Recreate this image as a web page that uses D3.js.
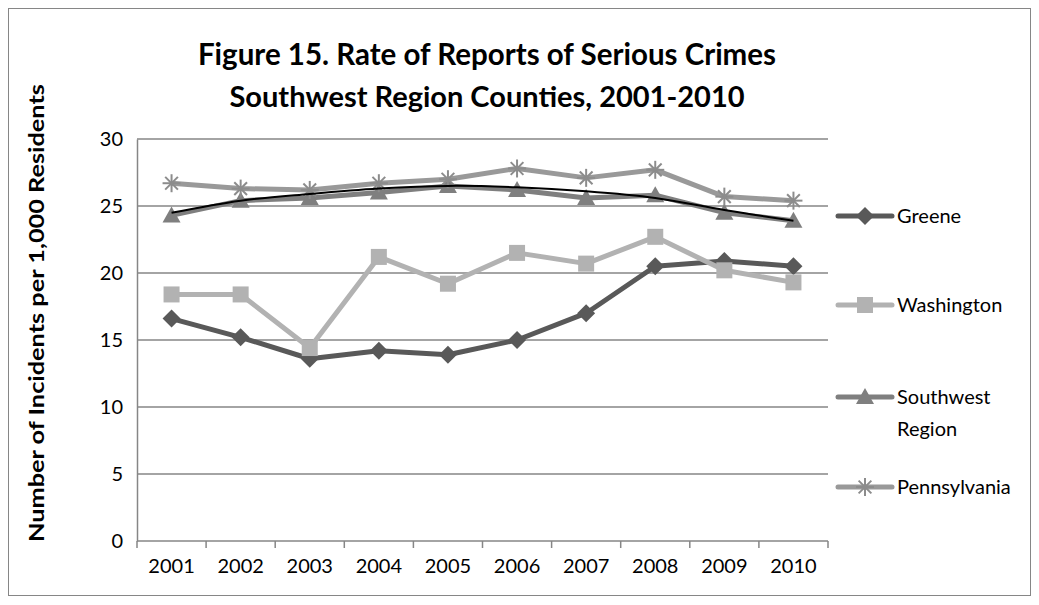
<!DOCTYPE html>
<html>
<head>
<meta charset="utf-8">
<script src="https://cdn.jsdelivr.net/npm/d3@7"></script>
<style>
  body { margin: 0; background: #fff; }
  text { font-family: Lato, "Open Sans", sans-serif; fill: #000; }
</style>
</head>
<body>
<div id="chart"></div>
<script>
// data
const years = ["2001", "2002", "2003", "2004", "2005", "2006", "2007", "2008", "2009", "2010"];
const greene = [16.6, 15.2, 13.6, 14.2, 13.9, 15.0, 17.0, 20.5, 20.9, 20.5];
const washington = [18.4, 18.4, 14.4, 21.2, 19.2, 21.5, 20.7, 22.7, 20.2, 19.3];
const southwest = [24.3, 25.4, 25.6, 26.0, 26.5, 26.2, 25.6, 25.8, 24.5, 23.9];
const pennsylvania = [26.7, 26.3, 26.2, 26.7, 27.0, 27.8, 27.1, 27.7, 25.7, 25.4];
const trend = [24.5, 25.4, 25.9, 26.3, 26.5, 26.4, 26.1, 25.6, 24.7, 23.9]; // black trendline of Southwest
const yTicks = [0, 5, 10, 15, 20, 25, 30];

const W = 1039, H = 605;
const margin = {left: 137, right: 211, top: 139, bottom: 64};

const svg = d3.select("#chart").append("svg")
    .attr("width", W)
    .attr("height", H);

// outer frame
svg.append("rect")
    .attr("x", 8.5).attr("y", 8.5)
    .attr("width", 1022).attr("height", 587)
    .attr("fill", "#fff")
    .attr("stroke", "#868686")
    .attr("stroke-width", 1);

const x = d3.scaleBand()
    .domain(years)
    .range([margin.left, W - margin.right]);

const y = d3.scaleLinear()
    .domain([0, 30])
    .range([H - margin.bottom, margin.top]);

const cx = d => x(d) + x.bandwidth() / 2;

// gridlines
svg.append("g")
    .selectAll("line")
    .data(yTicks.slice(1))
    .join("line")
    .attr("x1", margin.left).attr("x2", W - margin.right)
    .attr("y1", d => y(d)).attr("y2", d => y(d))
    .attr("stroke", "#868686")
    .attr("stroke-width", 1.5);

// y axis
const yAxis = svg.append("g")
    .attr("transform", "translate(" + margin.left + ",0)")
    .call(d3.axisLeft(y).tickValues(yTicks).tickSize(0).tickPadding(14));
yAxis.select(".domain").attr("stroke", "#868686").attr("stroke-width", 1.5);
yAxis.selectAll("text").style("font-size", "20px").style("font-family", "Lato, sans-serif");

// x axis with ticks between categories
const xAxisG = svg.append("g")
    .attr("transform", "translate(0," + y(0) + ")");
xAxisG.append("line")
    .attr("x1", margin.left).attr("x2", W - margin.right)
    .attr("stroke", "#868686").attr("stroke-width", 1.5);
xAxisG.selectAll("line.tk")
    .data(years.concat(["end"]))
    .join("line")
    .attr("class", "tk")
    .attr("x1", (d, i) => margin.left + i * x.bandwidth())
    .attr("x2", (d, i) => margin.left + i * x.bandwidth())
    .attr("y1", 0).attr("y2", 7)
    .attr("stroke", "#868686").attr("stroke-width", 1.5);
xAxisG.selectAll("text")
    .data(years)
    .join("text")
    .attr("x", d => cx(d))
    .attr("y", 18)
    .attr("dy", "0.71em")
    .attr("text-anchor", "middle")
    .style("font-size", "20px")
    .text(d => d);

// series
const series = [
    {name: "Greene", values: greene, color: "#595959", marker: "diamond"},
    {name: "Washington", values: washington, color: "#b2b2b2", marker: "square"},
    {name: "Southwest", name2: "Region", values: southwest, color: "#7f7f7f", marker: "triangle"},
    {name: "Pennsylvania", values: pennsylvania, color: "#999999", marker: "star"}
];

const line = d3.line()
    .x((d, i) => cx(years[i]))
    .y(d => y(d));

function drawMarker(g, type, color) {
    if (type === "diamond") {
        g.append("path").attr("d", "M0,-9L9,0L0,9L-9,0Z").attr("fill", color);
    } else if (type === "square") {
        g.append("rect").attr("x", -8).attr("y", -8).attr("width", 16).attr("height", 16).attr("fill", color);
    } else if (type === "triangle") {
        g.append("path").attr("d", "M0,-9L9,7L-9,7Z").attr("fill", color);
    } else {
        const r = 9;
        [0, 45, 90, 135].forEach(a => {
            const t = a * Math.PI / 180;
            g.append("line")
                .attr("x1", -r * Math.cos(t)).attr("y1", -r * Math.sin(t))
                .attr("x2", r * Math.cos(t)).attr("y2", r * Math.sin(t))
                .attr("stroke", color).attr("stroke-width", 2);
        });
    }
}

series.forEach(s => {
    svg.append("path")
        .datum(s.values)
        .attr("d", line)
        .attr("fill", "none")
        .attr("stroke", s.color)
        .attr("stroke-width", 5)
        .attr("stroke-linejoin", "round");
    s.values.forEach((v, i) => {
        const g = svg.append("g").attr("transform", "translate(" + cx(years[i]) + "," + y(v) + ")");
        drawMarker(g, s.marker, s.marker === "star" ? "#8c8c8c" : s.color);
    });
});

// trendline
svg.append("path")
    .datum(trend)
    .attr("d", line.curve(d3.curveCatmullRom))
    .attr("fill", "none")
    .attr("stroke", "#000")
    .attr("stroke-width", 2);

// legend
const legendY = [216, 305, 397, 487];
series.forEach((s, i) => {
    const g = svg.append("g").attr("transform", "translate(838," + legendY[i] + ")");
    g.append("line")
        .attr("x1", 0).attr("x2", 54)
        .attr("stroke", s.color).attr("stroke-width", 5)
        .attr("stroke-linecap", "round");
    const m = g.append("g").attr("transform", "translate(27,0)");
    drawMarker(m, s.marker, s.marker === "star" ? "#8c8c8c" : s.color);
    g.append("text")
        .attr("x", 59).attr("y", 0).attr("dy", "0.35em")
        .style("font-size", "20px")
        .text(s.name);
    if (s.name2) {
        g.append("text")
            .attr("x", 59).attr("y", 32).attr("dy", "0.35em")
            .style("font-size", "20px")
            .text(s.name2);
    }
});

// title
svg.append("text")
    .attr("x", 487).attr("y", 55)
    .attr("dy", "0.35em")
    .attr("text-anchor", "middle")
    .style("font-size", "29.5px").style("font-weight", "bold")
    .text("Figure 15. Rate of Reports of Serious Crimes");
svg.append("text")
    .attr("x", 487).attr("y", 97)
    .attr("dy", "0.35em")
    .attr("text-anchor", "middle")
    .style("font-size", "29px").style("font-weight", "bold")
    .text("Southwest Region Counties, 2001-2010");

// y axis title
svg.append("text")
    .attr("transform", "translate(37,313) rotate(-90)")
    .attr("dy", "0.35em")
    .attr("text-anchor", "middle")
    .attr("textLength", 458)
    .attr("lengthAdjust", "spacingAndGlyphs")
    .style("font-size", "21px").style("font-weight", "bold")
    .text("Number of Incidents per 1,000 Residents");
</script>
</body>
</html>
